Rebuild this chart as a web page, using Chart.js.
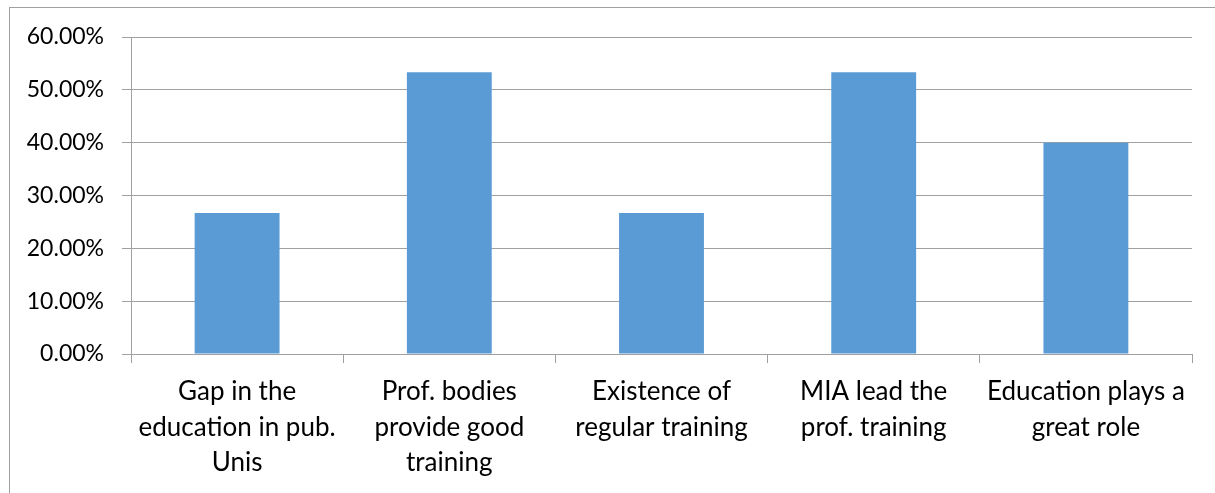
<!DOCTYPE html>
<html>
<head>
<meta charset="utf-8">
<title>Training survey</title>
<script src="https://cdn.jsdelivr.net/npm/chart.js@4/dist/chart.umd.min.js"></script>
<style>
  html, body { margin: 0; padding: 0; background: #fff; overflow: hidden; }
  #frame {
    position: absolute; left: 9px; top: 7px; width: 1400px; height: 700px;
    border-top: 1px solid #a0a0a0; border-left: 1px solid #a0a0a0;
  }
  #wrap { position: absolute; left: 0; top: 0; width: 1215px; height: 493px; }
</style>
</head>
<body>
<div id="frame"></div>
<div id="wrap"><canvas id="chart"></canvas></div>
<script>
// data
const categories = [
  ['Gap in the', 'education in pub.', 'Unis'],
  ['Prof. bodies', 'provide good', 'training'],
  ['Existence of', 'regular training'],
  ['MIA lead the', 'prof. training'],
  ['Education plays a', 'great role']
];
const shares = [26.67, 53.33, 26.67, 53.33, 40.00];
const yTicks = { min: 0, max: 60, step: 10 };

const gridGray = '#a0a0a0';
const fontFamily = 'Lato, "Open Sans", sans-serif';

new Chart(document.getElementById('chart'), {
  type: 'bar',
  data: {
    labels: categories,
    datasets: [{
      data: shares,
      backgroundColor: '#5b9bd5',
      barPercentage: 0.4,
      categoryPercentage: 1.0
    }]
  },
  options: {
    responsive: true,
    maintainAspectRatio: false,
    animation: false,
    layout: { padding: { left: 0, top: 37, right: 23, bottom: 0 } },
    plugins: { legend: { display: false }, tooltip: { enabled: false } },
    scales: {
      x: {
        grid: { offset: true, drawOnChartArea: false, drawTicks: true, tickLength: 9, color: gridGray },
        border: { color: gridGray },
        ticks: {
          color: '#000',
          font: { family: fontFamily, size: 26, lineHeight: 1.365 },
          autoSkip: false, maxRotation: 0, padding: 11
        },
        afterFit: s => { s.height = 139; }
      },
      y: {
        min: yTicks.min,
        max: yTicks.max,
        grid: { color: gridGray, tickLength: 9 },
        border: { color: gridGray },
        ticks: {
          stepSize: yTicks.step,
          color: '#000',
          font: { family: fontFamily, size: 23 },
          padding: 18,
          callback: v => v.toFixed(2) + '%'
        },
        afterFit: s => { s.width = 131; }
      }
    }
  }
});
</script>
</body>
</html>
